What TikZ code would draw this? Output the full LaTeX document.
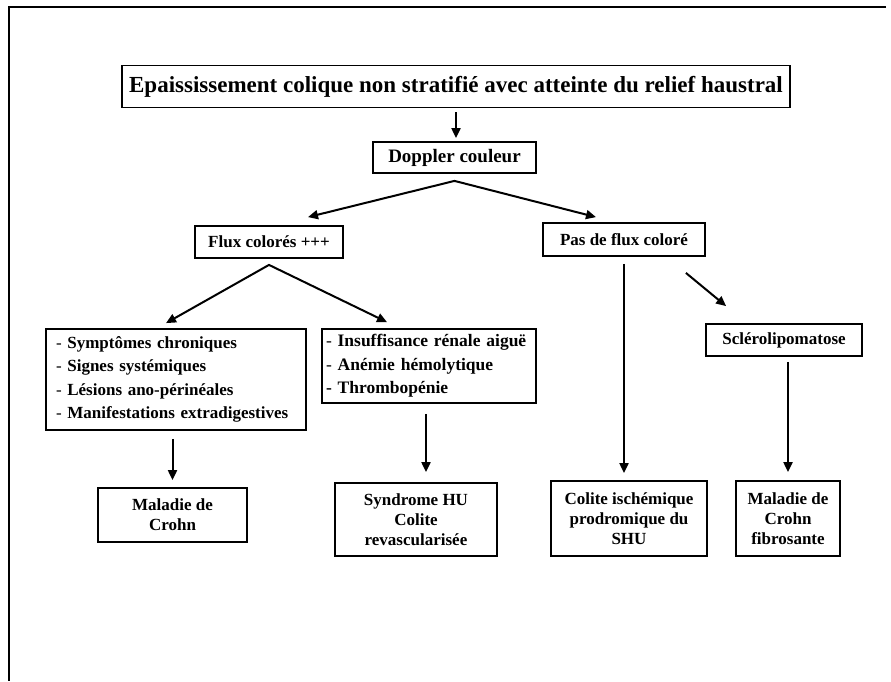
\documentclass[tikz,border=0pt]{standalone}
\usepackage{fontspec}
\setmainfont{Liberation Serif}
\usetikzlibrary{arrows.meta}

\begin{document}
\begin{tikzpicture}[x=1pt, y=-1pt, line width=2pt,
    font=\fontsize{17}{20}\selectfont\bfseries,
    box/.style={draw, line width=1.8pt, inner sep=0pt, align=center},
    arr/.style={-{Triangle[length=10pt,width=9pt]}},
    arrtwo/.style={{Triangle[length=10pt,width=9pt]}-{Triangle[length=10pt,width=9pt]}}]

  \useasboundingbox (0,0) rectangle (891,681);

  % ---------- page frame ----------
  \draw[line width=2.6pt] (886,7) -- (9,7) -- (9,681);

  % ---------- top of the tree ----------
  \node[box, minimum width=668pt, minimum height=42pt,
        font=\fontsize{23}{27}\selectfont\bfseries] (title) at (456,86.5)
        {Epaississement colique non stratifié avec atteinte du relief haustral};
  \node[box, minimum width=163pt, minimum height=31pt,
        font=\fontsize{19}{22}\selectfont\bfseries] (dop) at (454.5,157.5) {Doppler couleur};

  \node[box, minimum width=148pt, minimum height=32pt] (flux) at (269,242) {Flux colorés +++};
  \node[box, minimum width=162pt, minimum height=33pt] (pas) at (624,239.5) {Pas de flux coloré};

  % ---------- clinical lists ----------
  \node[box, minimum width=260pt, minimum height=101pt, align=left, text width=240pt,
        font=\fontsize{17}{23.5}\selectfont\bfseries] (clin) at (176,379.5)
        {\textmd{-} Symptômes chroniques\\ \textmd{-} Signes systémiques\\
         \textmd{-} Lésions ano-périnéales\\ \textmd{-} Manifestations extradigestives};
  \node[box, minimum width=214pt, minimum height=74pt, align=left, text width=206pt,
        font=\fontsize{17.5}{23.5}\selectfont\bfseries] (hemo) at (429,366)
        {\textmd{-} Insuffisance rénale aiguë\\ \textmd{-} Anémie hémolytique\\ - Thrombopénie};
  \node[box, minimum width=156pt, minimum height=32pt] (scler) at (784,340) {Sclérolipomatose};

  % ---------- diagnoses ----------
  \node[box, minimum width=149pt, minimum height=54pt] (crohn) at (172.5,515) {Maladie de\\Crohn};
  \node[box, minimum width=162pt, minimum height=73pt] (shu) at (416,519.5)
        {Syndrome HU\\Colite\\revascularisée};
  \node[box, minimum width=156pt, minimum height=75pt] (isch) at (629,518.5)
        {Colite ischémique\\prodromique du\\SHU};
  \node[box, minimum width=104pt, minimum height=75pt] (fibro) at (788,518.5)
        {Maladie de\\Crohn\\fibrosante};

  % ---------- connectors ----------
  \draw[arr, shorten <=4pt, shorten >=3pt] (title.south) -- (title.south |- dop.north);

  \coordinate (dopfork) at ([yshift=-7pt]dop.south);
  \draw[arrtwo] ([xshift=39pt,yshift=8pt]flux.north) -- (dopfork) -- ([xshift=-28pt,yshift=5pt]pas.north);

  \coordinate (fluxfork) at ([yshift=-6pt]flux.south);
  \draw[arrtwo] ([xshift=-10pt,yshift=5pt]clin.north) -- (fluxfork) -- ([xshift=-42pt,yshift=6pt]hemo.north);

  \draw[arr, shorten <=8pt, shorten >=7pt] (crohn.north |- clin.south) -- (crohn.north);
  \draw[arr, shorten <=10pt, shorten >=10pt] ([xshift=-3pt]hemo.south) -- ([xshift=-3pt]hemo.south |- shu.north);

  \draw[arr, shorten <=7pt, shorten >=7pt] (pas.south) -- (pas.south |- isch.north);
  \draw[arr] ([xshift=-20pt,yshift=-16pt]pas.south east) -- ([xshift=21pt,yshift=17pt]scler.north west);
  \draw[arr, shorten <=5pt, shorten >=8pt] (fibro.north |- scler.south) -- (fibro.north);

\end{tikzpicture}
\end{document}
